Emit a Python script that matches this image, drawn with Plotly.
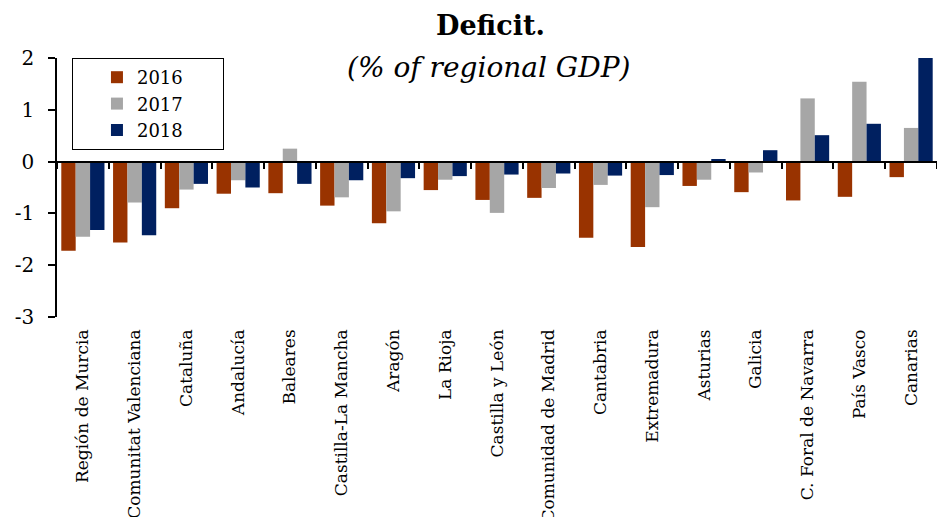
import plotly.graph_objects as go

# Regional budget balance, % of regional GDP
regions = [
    "Región de Murcia", "Comunitat Valenciana", "Cataluña", "Andalucía",
    "Baleares", "Castilla-La Mancha", "Aragón", "La Rioja", "Castilla y León",
    "Comunidad de Madrid", "Cantabria", "Extremadura", "Asturias", "Galicia",
    "C. Foral de Navarra", "País Vasco", "Canarias",
]
deficit_2016 = [-1.72, -1.56, -0.90, -0.62, -0.61, -0.85, -1.19, -0.55, -0.74,
                -0.70, -1.47, -1.65, -0.47, -0.59, -0.75, -0.68, -0.30]
deficit_2017 = [-1.45, -0.79, -0.54, -0.36, 0.25, -0.69, -0.96, -0.35, -0.99,
                -0.51, -0.45, -0.88, -0.35, -0.21, 1.22, 1.54, 0.65]
deficit_2018 = [-1.32, -1.42, -0.43, -0.50, -0.43, -0.36, -0.32, -0.28, -0.25,
                -0.23, -0.27, -0.26, 0.05, 0.22, 0.51, 0.73, 2.00]

years = ["2016", "2017", "2018"]
colors = ["#993300", "#A6A6A6", "#002060"]
y_ticks = [-3, -2, -1, 0, 1, 2]
y_tick_text = ["-3", "-2", "-1", "0", "1", "2"]

SERIF = "DejaVu Serif"
PAD = "\u00a0" * 6  # widens the legend box to the right of each label

fig = go.Figure()
for name, vals, col in zip(years, [deficit_2016, deficit_2017, deficit_2018], colors):
    fig.add_trace(go.Bar(
        x=regions, y=vals, name=name + PAD,
        marker=dict(color=col, line=dict(width=0)),
    ))

# invisible carrier for the zero-level axis with boundary ticks
fig.add_trace(go.Scatter(
    x=regions, y=[None] * len(regions), xaxis="x2", yaxis="y",
    showlegend=False, hoverinfo="skip", mode="markers",
))

fig.update_layout(
    width=937, height=517,
    margin=dict(l=57, r=0, t=58, b=200, autoexpand=False),
    paper_bgcolor="white", plot_bgcolor="white",
    barmode="group", bargap=0.166, bargroupgap=0,
    font=dict(family=SERIF, color="black"),
    showlegend=True,
    legend=dict(
        x=0.017, y=1.0, xanchor="left", yanchor="top",
        bordercolor="black", borderwidth=1, bgcolor="white",
        font=dict(family=SERIF, size=18, color="black"),
        indentation=24, tracegroupgap=0,
    ),
    xaxis=dict(
        type="category", categoryarray=regions, range=[-0.5, len(regions) - 0.5],
        showline=False, ticks="", showgrid=False, zeroline=False,
        tickangle=-90, tickfont=dict(family=SERIF, size=17, color="black"),
        ticklabelstandoff=8, automargin=False,
    ),
    xaxis2=dict(
        type="category", categoryarray=regions, range=[-0.5, len(regions) - 0.5],
        overlaying="x", anchor="free", position=0.6,
        showline=True, linecolor="black", linewidth=2,
        ticks="outside", tickson="boundaries", ticklen=6, tickwidth=1.5,
        tickcolor="black", showticklabels=False, showgrid=False, zeroline=False,
        automargin=False,
    ),
    yaxis=dict(
        range=[-3, 2], tickvals=y_ticks, ticktext=y_tick_text,
        showline=True, linecolor="black", linewidth=1.5,
        ticks="outside", ticklen=7, tickwidth=1.5, tickcolor="black",
        showgrid=False, zeroline=False,
        tickfont=dict(family=SERIF, size=20, color="black"),
        ticklabelstandoff=10, automargin=False,
    ),
    annotations=[
        dict(text="<b>Deficit.</b>", xref="paper", yref="paper",
             x=0.493, y=1.0, yshift=15, xanchor="center", yanchor="bottom",
             showarrow=False, font=dict(family=SERIF, size=27, color="black")),
        dict(text="<i>(% of regional GDP)</i>", xref="paper", yref="paper",
             x=0.49, y=1.0, yshift=-28, xanchor="center", yanchor="bottom",
             showarrow=False, font=dict(family=SERIF, size=28, color="black")),
    ],
)

fig.write_html("out.html")
